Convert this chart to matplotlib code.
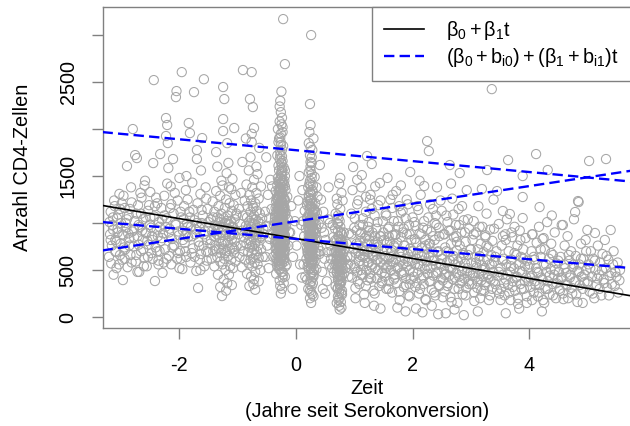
import matplotlib
matplotlib.use("Agg")
import numpy as np
import matplotlib.pyplot as plt

# ---- Daten ----
# vor Serokonversion, t < -1.5
zeit_vor = [-3.21, -3.19, -3.18, -3.16, -3.15, -3.13, -3.12, -3.10, -3.09, -3.07,
            -3.06, -3.04, -3.03, -3.01, -3.00, -2.98, -2.97, -2.96, -2.94, -2.93,
            -2.91, -2.90, -2.89, -2.87, -2.86, -2.84, -2.83, -2.81, -2.80, -2.79,
            -2.77, -2.76, -2.75, -2.73, -2.72, -2.71, -2.69, -2.68, -2.66, -2.65,
            -2.63, -2.62, -2.60, -2.59, -2.57, -2.56, -2.54, -2.53, -2.51, -2.50,
            -2.48, -2.47, -2.45, -2.44, -2.43, -2.42, -2.41, -2.39, -2.38, -2.36,
            -2.35, -2.33, -2.32, -2.31, -2.29, -2.28, -2.26, -2.25, -2.23, -2.23,
            -2.22, -2.21, -2.20, -2.19, -2.18, -2.17, -2.15, -2.14, -2.13, -2.11,
            -2.10, -2.09, -2.07, -2.06, -2.05, -2.04, -2.03, -2.01, -2.00, -1.99,
            -1.97, -1.96, -1.95, -1.94, -1.92, -1.91, -1.89, -1.88, -1.87, -1.85,
            -1.84, -1.83, -1.82, -1.81, -1.80, -1.78, -1.77, -1.75, -1.74, -1.73,
            -1.71, -1.70, -1.70, -1.69, -1.68, -1.67, -1.66, -1.64, -1.63, -1.61,
            -1.60, -1.59, -1.58, -1.57, -1.56, -1.54, -1.53, -1.52, -1.51, -1.50,
            -3.20, -3.17, -3.14, -3.11, -3.08, -3.05, -3.02, -2.99, -2.95, -2.92,
            -2.88, -2.85, -2.82, -2.78, -2.74, -2.70, -2.67, -2.64, -2.61, -2.58,
            -2.55, -2.52, -2.49, -2.46, -2.40, -2.37, -2.34, -2.30, -2.27, -2.24,
            -2.16, -2.12, -2.08, -2.02, -1.98, -1.93, -1.90, -1.86, -1.79, -1.76,
            -1.72, -1.65, -1.62, -1.55, -1.53, -2.96, -2.60, -2.21, -1.88, -1.63]
cd4_vor = [640, 880, 1120, 760, 980, 450, 1240, 820, 690, 1050,
           900, 560, 1310, 780, 1000, 610, 393, 870, 1160, 720,
           950, 1606, 530, 1080, 840, 660, 1380, 910, 2000, 750,
           1020, 1723, 590, 1691, 860, 1190, 480, 960, 700, 1270,
           820, 1040, 630, 1450, 890, 540, 1130, 770, 980, 1330,
           680, 860, 1638, 2521, 1070, 383, 740, 930, 1210, 600,
           1010, 1734, 810, 1160, 470, 890, 1290, 720, 2117, 1926,
           1050, 2043, 1851, 1585, 650, 940, 1390, 560, 830, 1681,
           1100, 760, 990, 2340, 2404, 620, 1240, 870, 1480, 700,
           1060, 2606, 510, 920, 1180, 790, 1350, 640, 1000, 850,
           2064, 1120, 1957, 580, 960, 1430, 730, 2393, 1030, 880,
           490, 1777, 1681, 1210, 309, 800, 950, 1310, 670, 1904,
           1080, 760, 2530, 540, 910, 1260, 820, 1150, 690, 1010,
           1010, 570, 930, 1180, 800, 1090, 660, 1210, 740, 1000,
           890, 1150, 580, 930, 1100, 770, 1320, 920, 540, 1060,
           810, 1190, 950, 620, 1270, 860, 700, 1040, 580, 960,
           1160, 740, 1320, 910, 620, 1040, 870, 1250, 680, 1140,
           930, 610, 1000, 1380, 600, 1290, 1400, 1420, 1500, 1560]

# Besuch um t = -1.25
zeit_m125 = [-1.47, -1.46, -1.45, -1.44, -1.43, -1.42, -1.41, -1.40, -1.40, -1.39,
             -1.38, -1.37, -1.37, -1.36, -1.35, -1.35, -1.34, -1.33, -1.33, -1.32,
             -1.31, -1.31, -1.30, -1.30, -1.29, -1.29, -1.28, -1.28, -1.27, -1.27,
             -1.26, -1.26, -1.25, -1.25, -1.25, -1.25, -1.25, -1.24, -1.24, -1.23,
             -1.23, -1.23, -1.22, -1.22, -1.21, -1.21, -1.20, -1.20, -1.19, -1.19,
             -1.18, -1.18, -1.17, -1.17, -1.16, -1.16, -1.15, -1.15, -1.14, -1.14,
             -1.13, -1.13, -1.12, -1.12, -1.11, -1.11, -1.10, -1.10, -1.09, -1.09,
             -1.08, -1.08, -1.07, -1.07, -1.06, -1.06, -1.05, -1.05, -1.04, -1.04,
             -1.03, -1.02, -1.02, -1.30, -1.20, -1.35, -1.18, -1.28, -1.15, -1.10]
cd4_m125 = [780, 1040, 620, 910, 1230, 700, 860, 1120, 540, 980,
            760, 1755, 1340, 880, 640, 1060, 450, 950, 1180, 720,
            840, 1010, 590, 1290, 900, 680, 1100, 780, 223, 960,
            1400, 560, 2447, 2106, 1979, 870, 730, 1050, 400, 2319,
            930, 620, 1160, 810, 1000, 500, 880, 1250, 700, 1530,
            940, 360, 790, 1080, 650, 1640, 990, 450, 860, 1210,
            720, 540, 1020, 900, 1360, 610, 830, 1130, 740, 1470,
            960, 520, 880, 1190, 2011, 680, 1040, 800, 590, 1300,
            920, 750, 1100, 320, 280, 1600, 1850, 1450, 1380, 340]

# Besuch um t = -0.75
zeit_m075 = [-0.99, -0.98, -0.97, -0.96, -0.95, -0.94, -0.93, -0.92, -0.91, -0.91,
             -0.90, -0.89, -0.88, -0.87, -0.86, -0.85, -0.85, -0.84, -0.84, -0.83,
             -0.83, -0.82, -0.82, -0.81, -0.81, -0.80, -0.80, -0.80, -0.79, -0.79,
             -0.79, -0.78, -0.78, -0.78, -0.77, -0.77, -0.77, -0.77, -0.76, -0.76,
             -0.76, -0.76, -0.75, -0.75, -0.75, -0.75, -0.74, -0.74, -0.74, -0.74,
             -0.73, -0.73, -0.73, -0.72, -0.72, -0.72, -0.72, -0.71, -0.71, -0.71,
             -0.70, -0.70, -0.70, -0.69, -0.69, -0.69, -0.68, -0.68, -0.68, -0.67,
             -0.67, -0.67, -0.66, -0.66, -0.65, -0.65, -0.64, -0.64, -0.63, -0.63,
             -0.62, -0.62, -0.61, -0.61, -0.60, -0.60, -0.59, -0.58, -0.57, -0.56,
             -0.80, -0.70, -0.76, -0.66, -0.86, -0.92, -0.72, -0.64, -0.78, -0.74]
cd4_m075 = [880, 1150, 640, 990, 760, 1320, 530, 920, 2628, 1080,
            700, 850, 1240, 610, 970, 1410, 780, 460, 1060, 880,
            1180, 690, 940, 1560, 570, 820, 1020, 1300, 2319, 740,
            890, 1120, 610, 1700, 960, 430, 800, 1240, 2606, 1862,
            1050, 680, 900, 540, 1380, 760, 2234, 1000, 850, 620,
            1160, 350, 930, 2011, 720, 1080, 1460, 870, 580, 990,
            1210, 780, 480, 1040, 910, 660, 1320, 820, 1600, 950,
            700, 1130, 560, 880, 1020, 760, 1260, 630, 930, 1800,
            840, 1100, 500, 990, 720, 1390, 860, 1050, 640, 940,
            330, 290, 1950, 1520, 1900, 1650, 400, 380, 1000, 1180]

# Besuch um t = -0.25
zeit_m025 = [-0.31, -0.24, -0.28, -0.20, -0.34, -0.26, -0.22, -0.30, -0.18, -0.27,
             -0.25, -0.33, -0.21, -0.29, -0.23, -0.36, -0.19, -0.27, -0.32, -0.24,
             -0.28, -0.22, -0.35, -0.26, -0.20, -0.30, -0.25, -0.17, -0.33, -0.27,
             -0.23, -0.29, -0.21, -0.31, -0.26, -0.19, -0.34, -0.24, -0.28, -0.22,
             -0.37, -0.25, -0.30, -0.18, -0.27, -0.32, -0.23, -0.21, -0.29, -0.26,
             -0.24, -0.31, -0.20, -0.28, -0.35, -0.22, -0.27, -0.19, -0.33, -0.25,
             -0.29, -0.23, -0.26, -0.30, -0.21, -0.34, -0.24, -0.28, -0.18, -0.32,
             -0.26, -0.22, -0.31, -0.25, -0.36, -0.20, -0.29, -0.23, -0.27, -0.33,
             -0.21, -0.28, -0.24, -0.30, -0.19, -0.26, -0.32, -0.22, -0.27, -0.35,
             -0.25, -0.29, -0.23, -0.31, -0.20, -0.27, -0.24, -0.34, -0.18, -0.28,
             -0.26, -0.24, -0.25, -0.22, -0.19, -0.31, -0.28, -0.23, -0.30, -0.27,
             -0.22, -0.30, -0.26, -0.32, -0.21, -0.28, -0.24, -0.35, -0.19, -0.29,
             -0.27, -0.23, -0.31, -0.25, -0.20, -0.33, -0.28, -0.22, -0.26, -0.30,
             -0.24, -0.29, -0.21, -0.27, -0.34, -0.25, -0.18, -0.31, -0.23, -0.28,
             -0.26, -0.20, -0.30, -0.24, -0.32, -0.22, -0.28, -0.25, -0.36, -0.19,
             -0.23, -0.27, -0.29, -0.21, -0.25, -0.33, -0.26, -0.31, -0.18, -0.24,
             -0.28, -0.22, -0.26, -0.30, -0.24, -0.20, -0.35, -0.27, -0.23, -0.29,
             -0.25, -0.31, -0.21, -0.27, -0.33, -0.24, -0.19, -0.28, -0.26, -0.22,
             -0.30, -0.26, -0.24, -0.32, -0.20, -0.28, -0.22, -0.25, -0.34, -0.27,
             -0.23, -0.29, -0.26, -0.21, -0.31, -0.25, -0.28, -0.19, -0.24, -0.33,
             -0.40, -0.42, -0.39, -0.14, -0.13, -0.15, -0.41, -0.38, -0.16, -0.12,
             -0.26, -0.24, -0.28, -0.25, -0.23, -0.27, -0.22, -0.29, -0.25, -0.24]
cd4_m025 = [980, 1230, 760, 1450, 620, 1100, 870, 1340, 540, 1010,
            690, 1180, 930, 1560, 480, 1050, 800, 1290, 910, 650,
            1420, 1020, 730, 880, 1170, 590, 1640, 960, 820, 1370,
            420, 1080, 700, 1250, 940, 1500, 860, 570, 1130, 780,
            1010, 1320, 650, 1090, 840, 1720, 990, 360, 1210, 720,
            1580, 900, 620, 1040, 1160, 1380, 510, 870, 1000, 760,
            1270, 950, 1830, 700, 1120, 460, 1060, 830, 1350, 610,
            1190, 740, 1480, 890, 790, 1000, 550, 1660, 930, 1260,
            680, 1100, 300, 960, 1240, 640, 1400, 820, 1910, 920,
            1030, 760, 1310, 1150, 590, 1470, 870, 680, 980, 1200,
            2180, 2120, 2050, 3170, 2691, 2000, 2240, 1968, 1860, 2300,
            450, 1090, 770, 540, 1420, 990, 1150, 1340, 710, 880,
            620, 1270, 830, 1540, 940, 1070, 390, 1180, 850, 1610,
            730, 1360, 1010, 560, 1230, 910, 1120, 780, 1450, 670,
            1040, 800, 1190, 1710, 940, 610, 1300, 480, 1080, 1390,
            860, 1760, 720, 1260, 990, 580, 1130, 1020, 760, 1500,
            900, 1080, 250, 1440, 640, 1170, 820, 1340, 1010, 510,
            1230, 700, 1590, 880, 1120, 950, 430, 1050, 1950, 790,
            1160, 600, 1310, 1000, 880, 1680, 740, 1090, 960, 330,
            1200, 850, 1410, 660, 1280, 770, 1020, 1560, 920, 720,
            880, 1150, 640, 1040, 760, 1280, 1390, 980, 560, 900,
            1860, 1780, 2080, 1640, 2020, 1720, 1820, 1900, 2400, 1550]

# Besuch um t = 0.25
zeit_p025 = [0.24, 0.30, 0.20, 0.27, 0.33, 0.22, 0.28, 0.18, 0.35, 0.25,
             0.29, 0.21, 0.26, 0.32, 0.23, 0.19, 0.31, 0.27, 0.24, 0.34,
             0.22, 0.28, 0.25, 0.30, 0.20, 0.36, 0.26, 0.23, 0.29, 0.17,
             0.27, 0.24, 0.31, 0.21, 0.33, 0.25, 0.28, 0.19, 0.26, 0.30,
             0.23, 0.35, 0.27, 0.22, 0.29, 0.25, 0.32, 0.20, 0.26, 0.24,
             0.30, 0.21, 0.28, 0.24, 0.34, 0.26, 0.19, 0.31, 0.23, 0.27,
             0.25, 0.29, 0.22, 0.33, 0.27, 0.20, 0.26, 0.30, 0.24, 0.28,
             0.26, 0.24, 0.25, 0.23, 0.28, 0.25, 0.27, 0.41, 0.22, 0.30,
             0.21, 0.27, 0.32, 0.24, 0.29, 0.26, 0.18, 0.35, 0.23, 0.28,
             0.25, 0.31, 0.22, 0.27, 0.20, 0.33, 0.26, 0.29, 0.24, 0.30,
             0.23, 0.28, 0.25, 0.21, 0.32, 0.26, 0.19, 0.30, 0.27, 0.24,
             0.26, 0.22, 0.29, 0.35, 0.25, 0.20, 0.31, 0.27, 0.23, 0.28,
             0.14, 0.38, 0.15, 0.39, 0.13, 0.37, 0.16, 0.40, 0.12, 0.36,
             0.24, 0.27, 0.25, 0.22, 0.29, 0.26, 0.24, 0.28, 0.21, 0.30]
cd4_p025 = [880, 620, 1050, 740, 1210, 510, 960, 800, 1380, 690,
            1100, 580, 830, 1490, 920, 400, 760, 1170, 640, 990,
            1300, 470, 1020, 860, 700, 1110, 560, 1420, 780, 940,
            330, 1240, 910, 670, 820, 1560, 590, 1060, 740, 450,
            1150, 680, 870, 990, 1330, 520, 1040, 800, 1260, 280,
            720, 1380, 1010, 610, 890, 1180, 730, 500, 840, 1640,
            930, 640, 760, 1120, 410, 1230, 860, 1000, 1450, 700,
            3000, 2266, 2043, 1968, 1777, 1650, 1700, 1617, 1850, 1900,
            950, 580, 780, 1090, 360, 1310, 620, 940, 720, 1200,
            450, 1070, 870, 1520, 540, 690, 980, 810, 200, 1140,
            660, 1350, 760, 1000, 590, 900, 1190, 430, 1060, 820,
            150, 1270, 920, 510, 1600, 680, 1150, 790, 1030, 610,
            860, 740, 1130, 990, 560, 1280, 430, 670, 1020, 820,
            1720, 1480, 1810, 1540, 1400, 260, 350, 240, 300, 220]

# Besuch um t = 0.75
zeit_p075 = [0.74, 0.70, 0.78, 0.66, 0.82, 0.72, 0.76, 0.68, 0.80, 0.75,
             0.71, 0.77, 0.73, 0.79, 0.69, 0.84, 0.75, 0.67, 0.81, 0.72,
             0.76, 0.70, 0.78, 0.74, 0.65, 0.80, 0.72, 0.77, 0.83, 0.69,
             0.73, 0.79, 0.75, 0.71, 0.68, 0.76, 0.82, 0.74, 0.70, 0.78,
             0.72, 0.77, 0.74, 0.80, 0.66, 0.75, 0.71, 0.79, 0.73, 0.85,
             0.76, 0.70, 0.78, 0.74, 0.69, 0.81, 0.73, 0.77, 0.72, 0.75,
             0.68, 0.79, 0.71, 0.76, 0.74, 0.80, 0.73, 0.77, 0.70, 0.75,
             0.64, 0.88, 0.62, 0.90, 0.63, 0.87, 0.61, 0.89, 0.60, 0.91,
             0.75, 0.72, 0.78, 0.74, 0.76, 0.71, 0.77, 0.73, 0.79, 0.70]
cd4_p075 = [620, 480, 750, 560, 900, 390, 680, 820, 510, 1020,
            300, 590, 860, 440, 700, 610, 350, 940, 770, 530,
            1150, 640, 250, 790, 470, 580, 1080, 420, 720, 560,
            180, 880, 500, 730, 330, 960, 460, 650, 810, 540,
            990, 360, 570, 1240, 690, 430, 620, 280, 740, 520,
            830, 470, 1320, 120, 600, 680, 400, 900, 220, 760,
            1100, 610, 540, 380, 1420, 800, 490, 700, 150, 590,
            850, 640, 520, 430, 980, 780, 700, 560, 620, 890,
            80, 310, 100, 200, 1480, 1200, 160, 1050, 240, 1260]

# zwischen den Besuchen
zeit_zw = [-0.55, -0.53, -0.52, -0.50, -0.49, -0.48, -0.47, -0.46, -0.45, -0.44,
           -0.10, -0.08, -0.05, -0.02, 0.01, 0.04, 0.07, 0.09, 0.10, 0.11,
           0.42, 0.44, 0.45, 0.47, 0.49, 0.51, 0.53, 0.55, 0.57, 0.59,
           0.43, 0.50, 0.56, -0.51, 0.06, -0.06, 0.48, 0.54, 0.46, 0.58]
cd4_zw = [880, 1120, 640, 970, 760, 1300, 520, 1050, 830, 1460,
          900, 1180, 640, 1020, 760, 1240, 560, 980, 420, 1350,
          700, 950, 480, 1120, 620, 820, 380, 1040, 560, 760,
          1250, 250, 1380, 1700, 1500, 300, 900, 690, 300, 1000]

# nach Serokonversion, t > 0.9
zeit_nach = [0.93, 0.95, 0.96, 0.98, 0.99, 1.00, 1.01, 1.02, 1.03, 1.04,
             1.05, 1.06, 1.07, 1.08, 1.09, 1.10, 1.11, 1.12, 1.13, 1.14,
             1.15, 1.16, 1.17, 1.18, 1.19, 1.20, 1.21, 1.22, 1.22, 1.23,
             1.24, 1.25, 1.25, 1.26, 1.27, 1.28, 1.29, 1.30, 1.30, 1.31,
             1.32, 1.33, 1.34, 1.35, 1.36, 1.37, 1.38, 1.39, 1.40, 1.41,
             1.42, 1.43, 1.44, 1.45, 1.46, 1.47, 1.48, 1.49, 1.50, 1.18,
             0.97, 1.05, 1.13, 1.27, 1.36, 1.02, 1.34, 1.45, 1.09, 1.21,
             1.15, 1.26, 1.31, 1.40, 1.48, 0.94, 1.07, 1.24, 1.38, 1.11,
             1.51, 1.52, 1.53, 1.54, 1.55, 1.56, 1.57, 1.58, 1.59, 1.60,
             1.61, 1.62, 1.63, 1.64, 1.65, 1.66, 1.67, 1.68, 1.69, 1.70,
             1.71, 1.72, 1.73, 1.74, 1.75, 1.76, 1.77, 1.78, 1.79, 1.80,
             1.80, 1.81, 1.82, 1.83, 1.84, 1.85, 1.86, 1.87, 1.88, 1.89,
             1.90, 1.91, 1.92, 1.93, 1.94, 1.95, 1.96, 1.96, 1.97, 1.98,
             1.99, 1.57, 1.66, 1.74, 1.88, 1.62, 1.70, 1.83, 1.92, 1.54,
             1.68, 1.77, 1.85, 1.95, 1.59,
             2.01, 2.02, 2.03, 2.04, 2.05, 2.06, 2.07, 2.08, 2.09, 2.10,
             2.11, 2.12, 2.13, 2.14, 2.15, 2.16, 2.17, 2.18, 2.19, 2.20,
             2.20, 2.21, 2.22, 2.23, 2.24, 2.25, 2.25, 2.26, 2.27, 2.28,
             2.28, 2.29, 2.30, 2.31, 2.32, 2.33, 2.34, 2.35, 2.36, 2.37,
             2.38, 2.39, 2.40, 2.41, 2.42, 2.43, 2.44, 2.45, 2.46, 2.47,
             2.48, 2.49, 2.50, 2.06, 2.17, 2.33, 2.44, 2.12, 2.38, 2.22,
             2.51, 2.52, 2.53, 2.54, 2.55, 2.56, 2.57, 2.58, 2.59, 2.60,
             2.61, 2.62, 2.63, 2.64, 2.64, 2.65, 2.66, 2.67, 2.68, 2.69,
             2.70, 2.71, 2.72, 2.73, 2.74, 2.75, 2.76, 2.77, 2.78, 2.79,
             2.80, 2.81, 2.81, 2.82, 2.83, 2.84, 2.85, 2.86, 2.87, 2.88,
             2.89, 2.90, 2.91, 2.92, 2.93, 2.94, 2.95, 2.96, 2.97, 2.98,
             2.99, 2.57, 2.72, 2.88, 2.66,
             3.01, 3.02, 3.03, 3.04, 3.05, 3.06, 3.07, 3.08, 3.09, 3.10,
             3.11, 3.12, 3.13, 3.14, 3.15, 3.16, 3.17, 3.18, 3.19, 3.19,
             3.20, 3.21, 3.22, 3.23, 3.24, 3.25, 3.26, 3.27, 3.28, 3.28,
             3.29, 3.30, 3.31, 3.32, 3.33, 3.34, 3.35, 3.36, 3.36, 3.37,
             3.38, 3.39, 3.40, 3.42, 3.44, 3.45, 3.46, 3.48, 3.49, 3.12,
             3.51, 3.52, 3.53, 3.55, 3.55, 3.56, 3.58, 3.59, 3.60, 3.61,
             3.62, 3.64, 3.64, 3.65, 3.67, 3.67, 3.68, 3.70, 3.71, 3.72,
             3.74, 3.75, 3.76, 3.78, 3.79, 3.80, 3.81, 3.82, 3.84, 3.85,
             3.86, 3.88, 3.89, 3.89, 3.89, 3.90, 3.91, 3.93, 3.94, 3.95,
             3.96, 3.97, 3.99, 3.60, 3.83,
             4.01, 4.02, 4.04, 4.05, 4.06, 4.08, 4.09, 4.10, 4.12, 4.12,
             4.13, 4.15, 4.16, 4.17, 4.18, 4.18, 4.20, 4.21, 4.23, 4.24,
             4.25, 4.27, 4.28, 4.30, 4.31, 4.32, 4.32, 4.34, 4.35, 4.37,
             4.38, 4.40, 4.41, 4.43, 4.44, 4.46, 4.47, 4.49, 4.22, 4.39,
             4.51, 4.52, 4.54, 4.55, 4.56, 4.58, 4.58, 4.60, 4.61, 4.63,
             4.64, 4.66, 4.67, 4.69, 4.70, 4.72, 4.73, 4.75, 4.77, 4.78,
             4.79, 4.80, 4.81, 4.83, 4.84, 4.85, 4.86, 4.87, 4.89, 4.90,
             4.92, 4.93, 4.95, 4.97, 4.98,
             5.00, 5.00, 5.02, 5.03, 5.04, 5.06, 5.08, 5.10, 5.12, 5.13,
             5.14, 5.16, 5.18, 5.20, 5.22, 5.24, 5.26, 5.28, 5.30, 5.32,
             5.32, 5.34, 5.36, 5.38, 5.40, 5.42, 5.45, 5.48, 5.52, 5.55]
cd4_nach = [640, 880, 420, 1596, 730, 540, 1050, 310, 680, 920,
            480, 760, 1240, 590, 350, 810, 660, 1380, 450, 720,
            980, 560, 240, 840, 630, 1120, 500, 1713, 780, 390,
            690, 1010, 580, 860, 460, 1300, 720, 1628, 530, 900,
            640, 280, 770, 1080, 520, 690, 940, 410, 610, 1190,
            750, 330, 1426, 580, 860, 470, 700, 1020, 550, 150,
            1350, 1460, 1510, 1250, 1390, 200, 120, 90, 980, 860,
            640, 420, 560, 800, 380, 560, 700, 960, 610, 500,
            820, 430, 650, 1100, 300, 720, 540, 940, 620, 380,
            800, 1250, 500, 690, 260, 870, 580, 1020, 450, 740,
            610, 1340, 360, 790, 530, 960, 680, 180, 590, 1400,
            850, 470, 700, 1130, 560, 320, 760, 620, 1050, 410,
            880, 540, 670, 230, 980, 500, 1543, 730, 400, 820,
            600, 1480, 1300, 100, 60, 640, 420, 900, 1200, 520,
            760, 1180, 480, 350, 860,
            700, 430, 1010, 560, 320, 790, 620, 1180, 470, 680,
            250, 890, 540, 1300, 410, 740, 600, 950, 350, 1394,
            660, 510, 820, 180, 590, 1872, 720, 460, 1060, 1766,
            640, 380, 780, 520, 910, 290, 690, 1150, 440, 600,
            820, 230, 550, 980, 1380, 480, 700, 340, 860, 570,
            1240, 410, 660, 90, 50, 120, 30, 1450, 1000, 760,
            620, 390, 880, 510, 270, 740, 460, 1080, 580, 330,
            690, 920, 440, 1617, 600, 210, 780, 520, 1260, 400,
            650, 850, 300, 560, 980, 470, 710, 150, 590, 1150,
            430, 1532, 760, 360, 620, 900, 490, 240, 680, 1030,
            410, 570, 800, 310, 1350, 520, 660, 380, 940, 460,
            720, 40, 80, 20, 1420,
            580, 350, 820, 470, 1020, 260, 640, 420, 900, 530,
            310, 720, 1180, 460, 600, 200, 780, 390, 1362, 550,
            960, 430, 690, 280, 520, 850, 370, 1100, 1564, 610,
            450, 740, 180, 560, 930, 400, 660, 2425, 300, 810,
            480, 1250, 590, 350, 700, 1340, 440, 990, 250, 60,
            520, 300, 760, 1128, 450, 620, 230, 880, 400, 560,
            1040, 1670, 340, 700, 1096, 480, 180, 610, 850, 380,
            520, 960, 280, 660, 430, 760, 200, 560, 920, 350,
            640, 480, 1500, 1277, 1053, 720, 300, 540, 840, 420,
            150, 600, 380, 40, 90,
            560, 320, 700, 440, 880, 260, 610, 380, 1734, 520,
            790, 220, 470, 960, 1170, 340, 640, 420, 830, 180,
            550, 720, 300, 480, 1010, 1564, 380, 620, 240, 510,
            780, 350, 660, 450, 900, 200, 570, 400, 60, 1080,
            480, 300, 640, 410, 979, 979, 250, 560, 760, 350,
            470, 860, 200, 600, 420, 700, 310, 530, 1040, 380,
            1117, 650, 240, 490, 1234, 1223, 560, 340, 780, 430,
            150, 620, 370, 820, 500,
            926, 360, 560, 1660, 270, 700, 430, 620, 200, 894,
            500, 340, 760, 450, 580, 230, 670, 400, 820, 1681,
            520, 310, 610, 440, 926, 350, 700, 480, 580, 390]

# weitere Punkte im dichten Kern der Wolke
zeit_kern = [1.01, 1.04, 1.06, 1.09, 1.12, 1.14, 1.17, 1.20, 1.23, 1.26,
             1.29, 1.32, 1.35, 1.38, 1.41, 1.44, 1.47, 1.50, 1.53, 1.56,
             1.59, 1.62, 1.65, 1.68, 1.71, 1.74, 1.77, 1.80, 1.83, 1.86,
             1.89, 1.92, 1.95, 1.98, 2.01, 2.04, 2.07, 2.10, 2.13, 2.16,
             2.19, 2.22, 2.25, 2.28, 2.31, 2.34, 2.37, 2.40, 2.43, 2.46,
             2.49, 2.52, 2.55, 2.58, 2.61, 2.64, 2.67, 2.70, 2.73, 2.76,
             2.79, 2.82, 2.85, 2.88, 2.91, 2.94, 2.97, 3.00, 3.03, 3.06,
             3.09, 3.12, 3.15, 3.18, 3.21, 3.24, 3.27, 3.30, 3.33, 3.36,
             3.39, 3.42, 3.45, 3.48, 3.51, 3.54, 3.57, 3.60, 3.63, 3.66,
             3.69, 3.72, 3.75, 3.78, 3.81, 3.84, 3.87, 3.90, 3.93, 3.96,
             3.99, 4.02, 4.05, 4.08, 4.11, 4.14, 4.17, 4.20, 4.23, 4.26,
             4.29, 4.32, 4.35, 4.38, 4.41, 4.44, 4.47, 4.50, 4.53, 4.56,
             4.59, 4.62, 4.65, 4.68, 4.71, 4.74, 4.77, 4.80, 4.83, 4.86,
             4.89, 4.92, 4.95, 4.98, 5.01, 5.05, 5.09, 5.13, 5.17, 5.21,
             5.25, 5.29, 5.33, 5.37, 5.41, 5.44, 5.47, 5.50, 5.53, 5.56,
             0.95, 1.00, 1.05, 1.10, 1.15, 1.20, 1.25, 1.30, 1.35, 1.40,
             1.45, 1.50, 1.55, 1.60, 1.65, 1.70, 1.75, 1.80, 1.85, 1.90,
             1.95, 2.00, 2.05, 2.10, 2.15, 2.20, 2.25, 2.30, 2.35, 2.40,
             2.45, 2.50, 2.55, 2.60, 2.65, 2.70, 2.75, 2.80, 2.85, 2.90,
             2.95, 3.05, 3.15, 3.25, 3.40, 3.55, 3.70, 3.85, 4.05, 4.25,
             -3.18, -3.14, -3.10, -3.06, -3.02, -2.98, -2.94, -2.90, -2.86, -2.82,
             -2.78, -2.74, -2.70, -2.66, -2.62, -2.58, -2.54, -2.50, -2.46, -2.42,
             -2.38, -2.34, -2.30, -2.26, -2.22, -2.18, -2.14, -2.10, -2.06, -2.02,
             -1.98, -1.94, -1.90, -1.86, -1.82, -1.78, -1.74, -1.70, -1.66, -1.62,
             -1.58, -1.54, -1.50, -1.46, -1.42, -1.38, -1.34, -1.30, -1.26, -1.22,
             -1.18, -1.14, -1.10, -1.06, -1.02, -3.08, -2.72, -2.36, -2.00, -1.64,
             -0.27, -0.23, -0.29, -0.21, -0.25, -0.31, -0.24, -0.28, -0.22, -0.26,
             -0.30, -0.20, -0.26, -0.24, -0.28, -0.22, -0.32, -0.25, -0.27, -0.23,
             -0.29, -0.21, -0.26, -0.24, -0.28, -0.25, -0.23, -0.27, -0.30, -0.22,
             -0.26, -0.24, -0.28, -0.25, -0.23, -0.27, -0.29, -0.21, -0.25, -0.26,
             0.25, 0.27, 0.23, 0.29, 0.24, 0.26, 0.28, 0.22, 0.30, 0.25,
             0.27, 0.23, 0.26, 0.24, 0.28, 0.25, 0.29, 0.22, 0.26, 0.24,
             0.27, 0.25, 0.23, 0.28, 0.26, 0.24, 0.30, 0.25, 0.27, 0.23,
             0.74, 0.76, 0.72, 0.78, 0.75, 0.73, 0.77, 0.71, 0.79, 0.74,
             0.76, 0.72, 0.75, 0.78, 0.73, 0.77, 0.74, 0.76, 0.71, 0.75]
cd4_kern = [520, 780, 380, 640, 900, 450, 700, 330, 580, 820,
            410, 660, 250, 740, 500, 860, 360, 620, 470, 790,
            300, 560, 710, 400, 880, 520, 270, 640, 450, 760,
            340, 590, 220, 700, 480, 830, 360, 560, 300, 650,
            430, 190, 540, 780, 380, 600, 260, 470, 690, 330,
            560, 210, 450, 700, 360, 520, 160, 610, 420, 800,
            300, 540, 380, 660, 230, 490, 350, 720, 440, 170,
            580, 380, 650, 280, 500, 340, 760, 420, 230, 560,
            380, 640, 290, 480, 180, 600, 360, 820, 450, 260,
            540, 320, 680, 420, 140, 490, 300, 620, 380, 220,
            530, 420, 180, 640, 340, 480, 260, 720, 400, 150,
            560, 300, 440, 680, 230, 500, 360, 600, 280, 420,
            190, 520, 340, 660, 450, 250, 560, 380, 160, 480,
            620, 300, 450, 700, 380, 520, 250, 600, 410, 300,
            500, 360, 650, 230, 470, 560, 330, 430, 260, 500,
            1100, 950, 1200, 880, 1050, 1280, 920, 1150, 860, 1010,
            1240, 900, 1080, 960, 1160, 870, 1020, 1110, 940, 1250,
            880, 1060, 970, 1140, 880, 1020, 930, 1200, 860, 1080,
            950, 1130, 880, 1010, 920, 1090, 860, 980, 1180, 900,
            1040, 880, 960, 870, 940, 860, 900, 820, 880, 840,
            820, 1060, 700, 940, 1150, 880, 620, 1040, 760, 1220,
            850, 660, 980, 1100, 720, 900, 640, 1060, 820, 1180,
            700, 960, 840, 1080, 620, 900, 1200, 760, 980, 680,
            1120, 820, 700, 960, 1060, 860, 640, 1000, 760, 1140,
            880, 700, 960, 820, 1060, 720, 920, 1040, 800, 680,
            1020, 860, 960, 720, 1080, 520, 480, 560, 520, 500,
            1050, 880, 1270, 760, 1190, 940, 640, 1330, 1100, 820,
            1010, 1260, 700, 1430, 910, 1060, 790, 1220, 560, 990,
            1140, 870, 1370, 1000, 740, 1600, 1170, 830, 1290, 940,
            1520, 1080, 680, 1250, 1380, 960, 600, 1150, 850, 1470,
            760, 980, 640, 1120, 870, 520, 1050, 790, 930, 1240,
            690, 1010, 380, 1170, 820, 580, 960, 1090, 730, 1330,
            480, 900, 1200, 660, 1040, 770, 560, 1410, 850, 950,
            520, 700, 430, 620, 340, 860, 500, 660, 770, 260,
            590, 920, 450, 380, 680, 820, 560, 300, 1000, 650]

# Regressionsgeraden: fester Effekt und drei Personen
beta_fest = [835, -106]
b_achsen = [1775, 1019, 831]
b_steigung = [-58, 93.5, -54]

x_ticks = [-2, 0, 2, 4]
y_ticks = [0, 500, 1000, 1500, 2000, 2500, 3000]
y_ticklabels = ["0", "500", "", "1500", "", "2500", ""]

zeit = np.concatenate([zeit_vor, zeit_m125, zeit_m075, zeit_m025, zeit_zw,
                       zeit_p025, zeit_p075, zeit_nach, zeit_kern])
cd4 = np.concatenate([cd4_vor, cd4_m125, cd4_m075, cd4_m025, cd4_zw,
                      cd4_p025, cd4_p075, cd4_nach, cd4_kern])

# ---- Plot ----
plt.rcParams['font.family'] = ['Liberation Sans', 'DejaVu Sans']
plt.rcParams['mathtext.fontset'] = 'custom'
plt.rcParams['mathtext.rm'] = 'Liberation Sans'
plt.rcParams['mathtext.it'] = 'Liberation Sans'
plt.rcParams['mathtext.bf'] = 'Liberation Sans:bold'

fs = 14.3

fig = plt.figure(figsize=(6.3, 4.26), dpi=100)
ax = fig.add_axes([0.1627, 0.230, 0.839, 0.7534])

ax.scatter(zeit, cd4, s=44, facecolors='none', edgecolors='#A6A6A6',
           linewidths=0.75, zorder=2)

ax.axline((0, beta_fest[0]), slope=beta_fest[1], color='black', lw=1.2,
          zorder=3, label=r'$\beta_0 + \beta_1 t$')
for i in range(len(b_achsen)):
    ax.axline((0, b_achsen[i]), slope=b_steigung[i], color='#0000FF', lw=1.7,
              dashes=(4.4, 2.2), zorder=3,
              label=r'$\left(\beta_0 + b_{i0}\right) + \left(\beta_1 + b_{i1}\right)t$' if i == 0 else None)

ax.set_xlim(-3.32, 5.75)
ax.set_ylim(-117, 3298)
ax.set_xticks(x_ticks)
ax.set_xticklabels([str(v) for v in x_ticks])
ax.set_yticks(y_ticks)
ax.set_yticklabels(y_ticklabels, rotation=90, va='center')

for s in ax.spines.values():
    s.set_color('#808080')
    s.set_linewidth(1.0)
ax.tick_params(axis='both', color='#808080', length=8, width=1.0,
               labelsize=fs, labelcolor='black')
ax.tick_params(axis='x', pad=12)
ax.tick_params(axis='y', pad=10)

ax.set_xlabel('Zeit\n(Jahre seit Serokonversion)', fontsize=fs, labelpad=3,
              linespacing=1.3)
ax.set_ylabel('Anzahl CD4-Zellen', fontsize=fs, labelpad=19)

leg = ax.legend(loc='upper right', bbox_to_anchor=(1.0, 1.0), borderaxespad=0,
                fontsize=fs, fancybox=False, edgecolor='#808080',
                framealpha=1, handlelength=2.0, handletextpad=1.1,
                borderpad=0.62, labelspacing=0.18)
leg.get_frame().set_linewidth(1.0)

fig.savefig('out.png', dpi=100)
